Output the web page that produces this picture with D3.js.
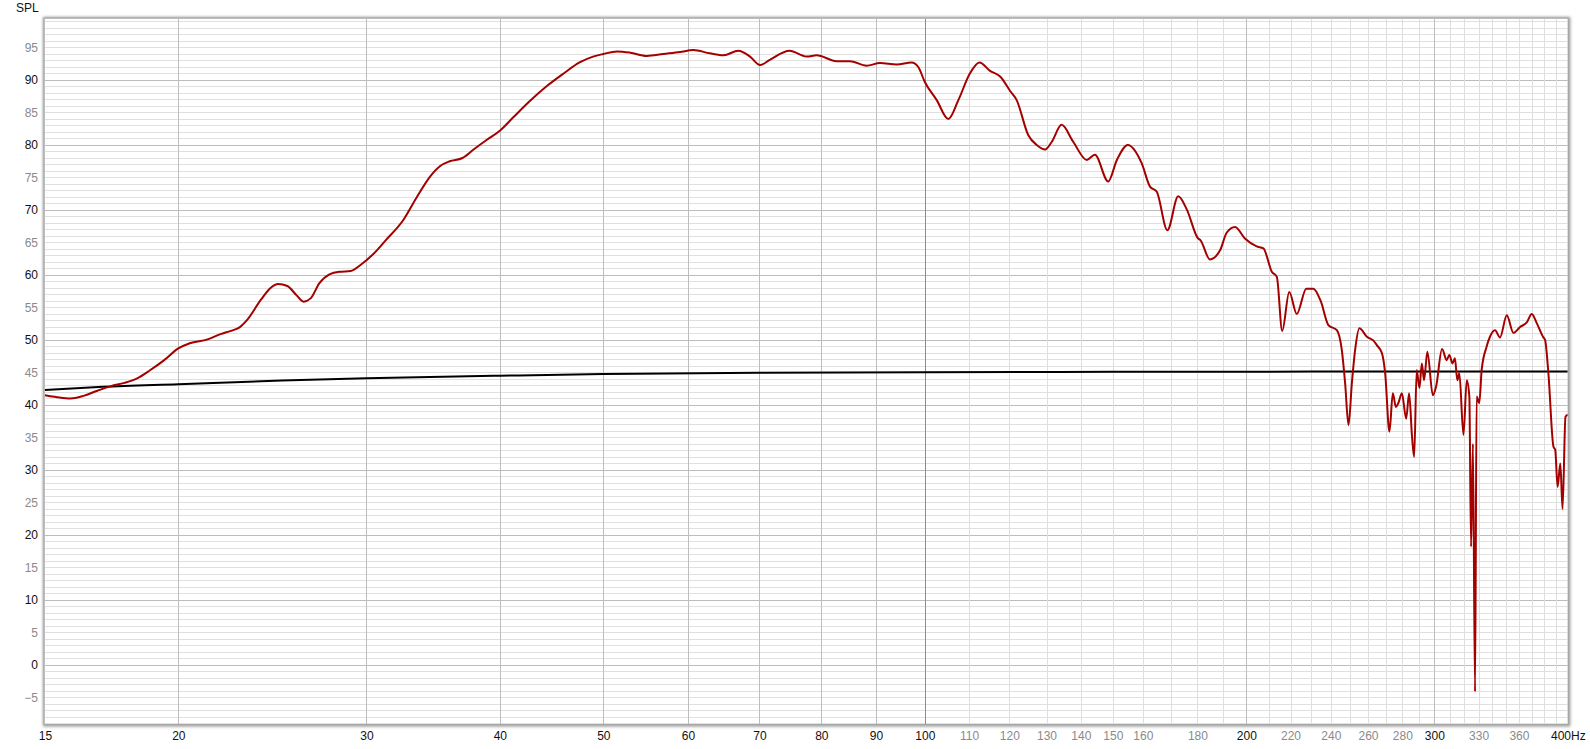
<!DOCTYPE html>
<html>
<head>
<meta charset="utf-8">
<script src="https://cdnjs.cloudflare.com/ajax/libs/d3/7.8.5/d3.min.js"></script>
<style>
  html, body { margin: 0; padding: 0; background: #ffffff; }
  svg { display: block; font-family: "Liberation Sans", Arial, sans-serif; }
</style>
</head>
<body>
<svg id="chart" width="1590" height="749"></svg>
<script>
// ---------- data ----------
const splFreq = [15.0,15.4,15.85,16.3,16.8,17.3,17.8,18.3,18.8,19.4,20.0,20.5,21.3,21.9,22.4,22.8,23.2,23.9,24.4,24.8,25.3,25.8,26.2,26.6,27.1,27.7,28.3,29.0,29.6,30.4,31.3,32.5,33.4,34.4,35.2,35.9,36.9,37.8,38.9,40.0,41.2,42.7,44.3,45.9,47.5,48.9,50.0,51.5,53.0,54.9,56.9,59.0,60.7,62.9,64.8,66.9,68.6,70.1,71.6,74.7,77.5,79.2,82.7,85.1,88.2,90.8,94.1,97.2,98.6,100,102.6,105.2,107.5,110.2,112.5,115.1,117.7,120.2,121.9,125.0,127.3,129.6,131.5,134.3,137.7,141.8,144.3,148.5,151.3,154.9,159.6,162.5,164.9,168.7,172.7,175.9,180.3,181.1,184.9,189.0,191.7,195.2,199.4,204.5,207.5,211.3,213.6,216.1,219.4,223.0,227.6,231.1,234.8,238.7,243.1,245.7,247.5,249.3,251.1,252.9,255.2,259.4,263.1,265.0,267.9,269.8,272.3,274.3,276.1,277.6,279.7,282.3,284.1,285.9,287.2,288.8,290.5,292.0,293.4,295.5,299.0,301.1,305.0,308.1,309.8,312.0,313.6,315.2,316.6,319.4,321.7,323.5,324.7,326.0,327.5,328.6,330.5,332.2,335.8,338.2,341.9,345.6,350.7,355.7,360.9,366.1,370.1,374.1,379.5,380.9,383.6,387.8,389.3,391.3,393.6,395.5,398.0,400.0];
const splValue = [41.5,41.2,41.0,41.4,42.2,42.9,43.4,44.1,45.3,46.9,48.7,49.5,50.1,50.9,51.4,51.9,53.1,56.2,58.0,58.6,58.3,56.9,55.9,56.4,58.7,60.1,60.5,60.6,61.5,63.1,65.4,68.5,71.8,75.1,76.8,77.5,78.0,79.3,80.8,82.2,84.3,86.8,89.1,91.0,92.7,93.6,94.0,94.4,94.2,93.7,94.0,94.3,94.6,94.1,93.8,94.5,93.6,92.3,93.1,94.5,93.6,93.8,92.9,92.9,92.2,92.6,92.4,92.7,92.0,89.7,86.9,84.0,86.9,91.0,92.7,91.4,90.5,88.3,86.9,81.5,80.0,79.3,80.5,83.1,80.5,77.7,78.5,74.4,77.7,80.0,77.2,73.6,72.8,66.9,72.1,70.1,65.6,65.4,62.4,63.8,66.5,67.4,65.6,64.4,64.1,60.5,59.7,51.4,57.4,54.0,57.9,57.9,56.0,52.3,51.5,48.5,43.3,36.9,43.3,48.5,51.8,50.5,49.9,49.2,48.0,44.9,35.9,41.8,39.7,40.3,41.8,37.9,41.8,35.1,32.0,45.4,42.6,46.4,43.8,48.2,41.5,42.8,48.6,46.9,47.7,46.4,47.2,43.8,44.9,35.4,43.8,41.3,18.2,34.0,-4.1,41.3,40.3,45.4,49.0,50.5,51.5,50.4,53.8,51.1,52.0,52.7,54.0,52.6,50.4,50.0,44.9,33.6,33.1,27.4,31.0,24.0,38.2,38.5];

const refFreq  = [15, 17, 20, 25, 30, 40, 50, 70, 100, 150, 200, 300, 400];
const refValue = [42.3, 42.8, 43.2, 43.75, 44.1, 44.5, 44.75, 44.95, 45.05, 45.1, 45.12, 45.15, 45.15];

const xLabelTicks = [15,20,30,40,50,60,70,80,90,100,110,120,130,140,150,160,180,200,220,240,260,280,300,330,360,400];
const xDarkLabels = [15,20,30,40,50,60,70,80,90,100,200,300,400];
const xMajorGrid  = [20,30,40,50,60,70,80,90,200,300];
const xMinorGrid  = [110,120,130,140,150,160,170,180,190,210,220,230,240,250,260,270,280,290,310,320,330,340,350,360,370,380,390];
const xDecadeGrid = [100];
const yLabelTicks = [-5,0,5,10,15,20,25,30,35,40,45,50,55,60,65,70,75,80,85,90,95];
const yMinorGrid  = d3.range(-9, 100);
const yAxisTitle = "SPL";
const xUnit = "Hz";

// ---------- layout ----------
const L = 44.5, R = 1567.8, T = 18.5, B = 724;
const x = d3.scaleLog().domain([15, 400]).range([44.9, 1567.8]);
const y = d3.scaleLinear().domain([-9.08, 99.46]).range([B, T]);

const svg = d3.select("#chart");
const defs = svg.append("defs");
const f = defs.append("filter").attr("id", "shadow").attr("x", "-5%").attr("y", "-5%").attr("width", "110%").attr("height", "110%");
f.append("feGaussianBlur").attr("stdDeviation", 1.6);
defs.append("clipPath").attr("id", "clip").append("rect")
  .attr("x", L).attr("y", T).attr("width", R - L).attr("height", B - T);

// frame shadow
svg.append("rect").attr("x", L - 1.5).attr("y", T - 1.5).attr("width", R - L + 4).attr("height", B - T + 4)
  .attr("fill", "#9a9a9a").attr("filter", "url(#shadow)");
svg.append("rect").attr("x", L).attr("y", T).attr("width", R - L).attr("height", B - T).attr("fill", "#ffffff");

const grid = svg.append("g").attr("clip-path", "url(#clip)");
// horizontal minor grid
grid.selectAll("line.hmin").data(yMinorGrid).join("line")
  .attr("x1", L).attr("x2", R)
  .attr("y1", d => Math.round(y(d)) + 0.5).attr("y2", d => Math.round(y(d)) + 0.5)
  .attr("stroke", d => (d % 10 === 0) ? "#bdbdbd" : "#e0e0e0").attr("stroke-width", 1);
// vertical grids
grid.selectAll("line.vmin").data(xMinorGrid).join("line")
  .attr("y1", T).attr("y2", B)
  .attr("x1", d => Math.round(x(d)) + 0.5).attr("x2", d => Math.round(x(d)) + 0.5)
  .attr("stroke", "#dedede");
grid.selectAll("line.vmaj").data(xMajorGrid).join("line")
  .attr("y1", T).attr("y2", B)
  .attr("x1", d => Math.round(x(d)) + 0.5).attr("x2", d => Math.round(x(d)) + 0.5)
  .attr("stroke", "#bdbdbd");
grid.selectAll("line.vdec").data(xDecadeGrid).join("line")
  .attr("y1", T).attr("y2", B)
  .attr("x1", d => Math.round(x(d)) + 0.5).attr("x2", d => Math.round(x(d)) + 0.5)
  .attr("stroke", "#8c8c8c");

// curves
const plot = svg.append("g").attr("clip-path", "url(#clip)");
const line = d3.line().x(d => x(d[0])).y(d => y(d[1])).curve(d3.curveMonotoneX);
plot.append("path").datum(refFreq.map((fq, i) => [fq, refValue[i]]))
  .attr("d", line).attr("fill", "none").attr("stroke", "#000000").attr("stroke-width", 2);
plot.append("path").datum(splFreq.map((fq, i) => [fq, splValue[i]]))
  .attr("d", line).attr("fill", "none").attr("stroke", "#a30000").attr("stroke-width", 2)
  .attr("stroke-linejoin", "round");

// frame border
svg.append("rect").attr("x", L - 0.5).attr("y", T - 0.5).attr("width", R - L + 1).attr("height", B - T + 1)
  .attr("fill", "none").attr("stroke", "#a8a8a8").attr("stroke-width", 1);

// axes
const yAxis = d3.axisLeft(y).tickValues(yLabelTicks).tickSize(0).tickPadding(6.5).tickFormat(d3.format("d"));
const gy = svg.append("g").attr("transform", `translate(${L},0)`).call(yAxis);
gy.select(".domain").remove();
gy.selectAll("text").attr("font-size", 12).attr("font-family", "Liberation Sans, Arial, sans-serif")
  .attr("fill", d => (d % 10 === 0) ? "#111" : "#8a8a8a");

const xAxis = d3.axisBottom(x).tickValues(xLabelTicks).tickSize(0).tickPadding(7)
  .tickFormat(d => d === 400 ? d + xUnit : String(d));
const gx = svg.append("g").attr("transform", `translate(0,${B})`).call(xAxis);
gx.select(".domain").remove();
gx.selectAll("text").attr("font-size", 12).attr("font-family", "Liberation Sans, Arial, sans-serif")
  .attr("fill", d => xDarkLabels.includes(d) ? "#111" : "#8a8a8a");

svg.append("text").attr("x", 16).attr("y", 12).attr("font-size", 12).attr("fill", "#111").text(yAxisTitle);
</script>
</body>
</html>
